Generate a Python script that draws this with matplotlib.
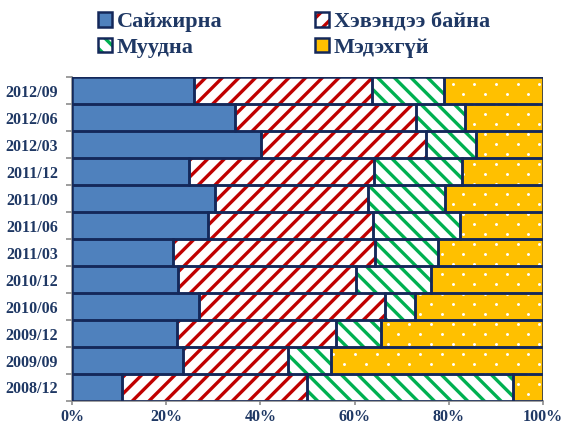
import numpy as np
import matplotlib
matplotlib.use("Agg")
import matplotlib.pyplot as plt
from matplotlib.patches import Patch

plt.rcParams['font.family'] = ['Liberation Serif', 'DejaVu Serif']
plt.rcParams['hatch.linewidth'] = 2.4

# categories, bottom to top
periods = ['2008/12', '2009/09', '2009/12', '2010/06', '2010/12', '2011/03',
           '2011/06', '2011/09', '2011/12', '2012/03', '2012/06', '2012/09']

better = [10.5, 23.6, 22.2, 26.9, 22.4, 21.5, 28.9, 30.3, 24.8, 40.1, 34.6, 25.9]
same = [39.3, 22.3, 33.8, 39.5, 37.9, 42.9, 34.9, 32.6, 39.3, 35.1, 38.5, 37.8]
worse = [43.9, 9.0, 9.7, 6.4, 16.0, 13.2, 18.5, 16.2, 18.7, 10.5, 10.4, 15.2]
unknown = [6.3, 45.1, 34.3, 27.2, 23.7, 22.4, 17.7, 20.9, 17.2, 14.3, 16.5, 21.1]

names = ['Сайжирна', 'Хэвэндээ байна', 'Муудна', 'Мэдэхгүй']

navy = '#14285A'
text_col = '#1F3864'

fig = plt.figure(figsize=(5.63, 4.26), dpi=100)
ax = fig.add_axes([0.128, 0.0587, 0.8365, 0.7603])

y = np.arange(len(periods))
series = [
    (better, '#4F81BD', None, None),
    (same, 'white', '#C00000', '//'),
    (worse, 'white', '#00B050', '\\\\'),
    (unknown, '#FFC000', None, 'dots'),
]

total = np.array(better) + np.array(same) + np.array(worse) + np.array(unknown)

# dot texture grid for the gold series (in data units)
gx = np.arange(-2.0, 102, 4.6)
gy = np.arange(-0.6, len(periods), 0.37)
dot_x, dot_y = [], []
for k, yy in enumerate(gy):
    off = 2.3 if k % 2 else 0.0
    dot_x.extend(gx + off)
    dot_y.extend([yy] * len(gx))

handles = []
left = np.zeros(len(periods))
for vals, face, hcol, hatch in series:
    w = np.array(vals, dtype=float) / total * 100
    if hatch in ('//', '\\\\'):
        ax.barh(y, w, left=left, height=1.0, color=face, edgecolor=hcol,
                hatch=hatch, linewidth=0, zorder=2)
    else:
        bars = ax.barh(y, w, left=left, height=1.0, color=face, linewidth=0, zorder=2)
        if hatch == 'dots':
            for b in bars:
                sc = ax.scatter(dot_x, dot_y, s=4.5, color='white', linewidths=0,
                                zorder=2.5)
                sc.set_clip_path(b)
    ax.barh(y, w, left=left, height=1.0, color='none', edgecolor=navy,
            linewidth=1.8, zorder=3)
    left += w
    if hatch in ('//', '\\\\'):
        h = (Patch(facecolor=face, edgecolor=hcol, hatch=hatch, linewidth=0),
             Patch(facecolor='none', edgecolor=navy, linewidth=1.8))
    else:
        h = Patch(facecolor=face, edgecolor=navy, linewidth=1.8)
    handles.append(h)

ax.set_xlim(0, 100)
ax.set_ylim(-0.5, len(periods) - 0.5)
ax.set_xticks(np.arange(0, 101, 20))
ax.set_xticklabels([f'{v}%' for v in range(0, 101, 20)])
ax.set_yticks(y)
ax.set_yticklabels(periods)
ax.set_yticks(np.arange(-0.5, len(periods), 1), minor=True)

for s in ['top', 'right']:
    ax.spines[s].set_visible(False)
for s in ['left', 'bottom']:
    ax.spines[s].set_color('#8C8C8C')
    ax.spines[s].set_linewidth(1.2)

ax.tick_params(axis='y', which='major', length=0, pad=10)
ax.tick_params(axis='y', which='minor', length=4, color='#8C8C8C', width=1.2)
ax.tick_params(axis='x', length=3, color='#8C8C8C', width=1.2, pad=2.5)
for lab in ax.get_xticklabels() + ax.get_yticklabels():
    lab.set_fontweight('bold')
    lab.set_fontsize(11.5)
    lab.set_color(text_col)

order = [0, 2, 1, 3]
leg = fig.legend([handles[i] for i in order], [names[i] for i in order],
                 loc='upper left', bbox_to_anchor=(0.139, 1.018), ncol=2,
                 frameon=False, handlelength=0.6, handleheight=0.6,
                 handletextpad=0.22, columnspacing=4.2, labelspacing=0.25,
                 prop={'weight': 'bold', 'size': 16})
for t in leg.get_texts():
    t.set_color(text_col)

fig.savefig('out.png', dpi=100)
